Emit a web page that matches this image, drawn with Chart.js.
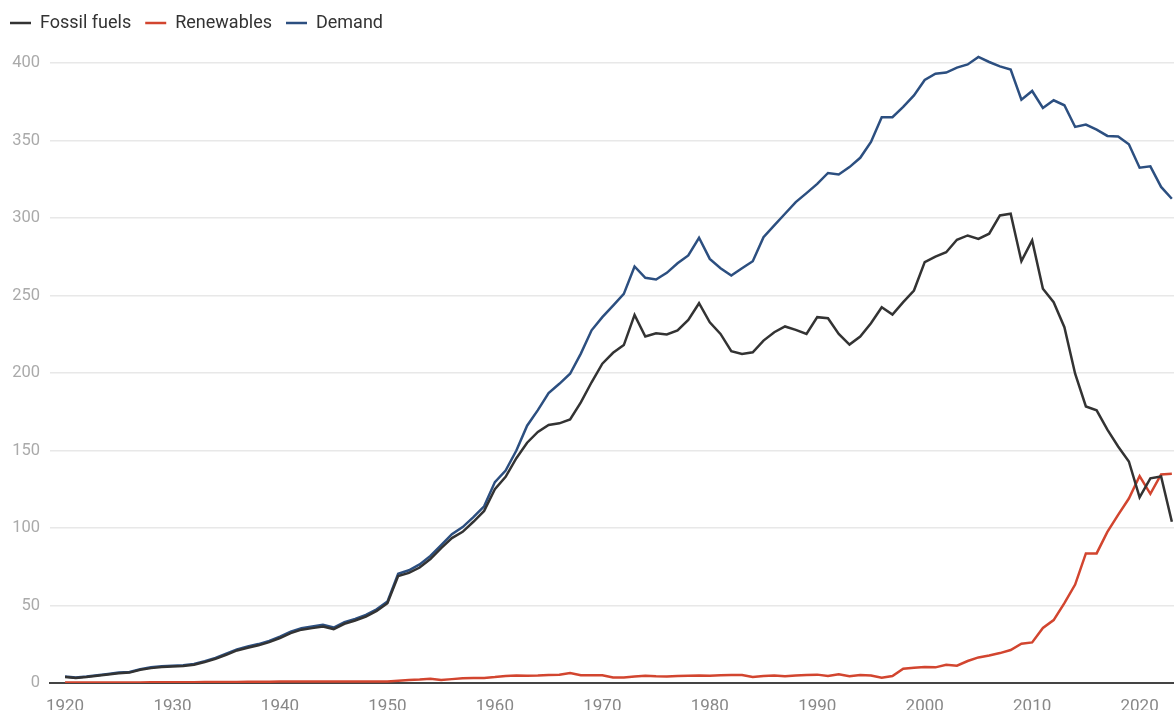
<!DOCTYPE html>
<html>
<head>
<meta charset="utf-8">
<script src="https://cdn.jsdelivr.net/npm/chart.js@4.4.1/dist/chart.umd.min.js"></script>
<style>
  html, body { margin: 0; padding: 0; background: #fff; overflow: hidden; }
  .chart-container { position: relative; width: 1174px; height: 710px; }
</style>
</head>
<body>
<div class="chart-container">
  <canvas id="chart"></canvas>
</div>
<script>
// years 1920 .. 2023
const years = Array.from({ length: 104 }, (_, i) => 1920 + i);
const decadeTicks = [1920, 1930, 1940, 1950, 1960, 1970, 1980, 1990, 2000, 2010, 2020];
const valueTicks = [0, 50, 100, 150, 200, 250, 300, 350, 400];

const fossilFuels = [
  3.9, 3.3, 3.9, 4.7, 5.5, 6.3, 6.7, 8.5, 9.6, 10.3,
  10.7, 11.0, 11.8, 13.5, 15.6, 18.2, 21.0, 22.7, 24.3, 26.4,
  29.0, 32.2, 34.4, 35.4, 36.5, 34.8, 38.2, 40.3, 42.9, 46.5,
  51.5, 69.0, 71.0, 74.5, 80.0, 87.0, 93.5, 97.5, 104.0, 111.0,
  125.0, 133.0, 145.0, 155.0, 162.0, 166.5, 167.5, 170.0, 181.0, 194.0,
  206.0, 213.0, 218.0, 237.5, 223.5, 225.6, 224.8, 227.4, 234.2, 245.0,
  232.7, 225.2, 214.0, 212.3, 213.3, 220.9, 226.3, 230.0, 227.8, 225.2,
  236.0, 235.3, 225.2, 218.3, 223.5, 232.1, 242.4, 237.7, 245.7, 253.2,
  271.5, 275.1, 277.9, 285.9, 288.7, 286.5, 289.8, 301.6, 302.7, 272.1,
  285.5, 254.3, 245.6, 229.5, 199.5, 178.4, 175.9, 163.4, 152.6, 142.9,
  119.8, 132.0, 133.2, 104.0
];

const renewables = [
  0.3, 0.3, 0.3, 0.3, 0.3, 0.4, 0.4, 0.4, 0.5, 0.5,
  0.5, 0.5, 0.5, 0.6, 0.6, 0.7, 0.7, 0.8, 0.8, 0.8,
  0.9, 0.9, 1.0, 1.0, 1.0, 1.0, 1.0, 1.0, 1.0, 1.0,
  1.0, 1.5, 2.0, 2.2, 2.8, 2.0, 2.5, 3.0, 3.2, 3.3,
  3.8, 4.5, 4.8, 4.6, 4.8, 5.2, 5.3, 6.5, 5.0, 5.0,
  5.0, 3.5, 3.6, 4.2, 4.6, 4.3, 4.2, 4.5, 4.6, 4.8,
  4.6, 5.0, 5.2, 5.2, 3.9, 4.5, 4.9, 4.3, 4.9, 5.2,
  5.4, 4.5, 5.6, 4.3, 5.2, 4.9, 3.4, 4.5, 9.2, 9.9,
  10.3, 10.1, 11.8, 11.2, 14.2, 16.5, 17.8, 19.3, 21.3, 25.3,
  26.2, 35.5, 40.6, 51.5, 63.5, 83.6, 83.6, 97.5, 108.5, 119.0,
  133.5, 122.0, 134.5, 135.0
];

const demand = [
  4.2, 3.6, 4.2, 5.0, 5.8, 6.7, 7.1, 8.9, 10.1, 10.8,
  11.2, 11.5, 12.3, 14.1, 16.2, 18.9, 21.7, 23.5, 25.1, 27.2,
  29.9, 33.1, 35.4, 36.4, 37.5, 35.8, 39.2, 41.3, 43.9, 47.5,
  52.5, 70.5, 72.7, 76.5, 82.0, 89.0, 96.0, 100.6, 107.0, 114.0,
  129.6, 137.0, 150.0, 166.0, 176.0, 187.0, 193.0, 199.5, 212.5, 227.5,
  236.0, 243.5, 251.0, 268.7, 261.4, 260.3, 264.6, 270.8, 275.8, 287.2,
  273.6, 267.6, 262.9, 267.6, 272.1, 287.6, 295.2, 302.7, 310.2, 316.0,
  322.0, 329.0, 328.0, 332.8, 338.8, 349.0, 365.0, 365.0, 371.6, 379.0,
  389.0, 393.0, 393.8, 397.0, 399.0, 403.9, 400.6, 397.8, 395.7, 376.3,
  381.9, 370.9, 375.9, 372.7, 358.7, 360.2, 357.0, 352.9, 352.6, 347.5,
  332.4, 333.3, 320.0, 312.4
];

const FONT = "Roboto, 'Noto Sans', sans-serif";

// extra room under the legend
const legendSpacer = {
  id: "legendSpacer",
  beforeInit(chart) {
    const fit = chart.legend.fit;
    chart.legend.fit = function () {
      fit.call(this);
      this.height += 11;
    };
  },
};

const ctx = document.getElementById("chart").getContext("2d");

new Chart(ctx, {
  type: "line",
  data: {
    labels: years,
    datasets: [
      { label: "Fossil fuels", data: fossilFuels, borderColor: "#333333", backgroundColor: "#333333", borderWidth: 2.5 },
      { label: "Renewables", data: renewables, borderColor: "#d2452f", backgroundColor: "#d2452f", borderWidth: 2.5 },
      { label: "Demand", data: demand, borderColor: "#2c4f80", backgroundColor: "#2c4f80", borderWidth: 2.5 },
    ],
  },
  options: {
    responsive: true,
    maintainAspectRatio: false,
    animation: false,
    layout: { padding: { left: -4, top: 0, right: 0, bottom: 0 } },
    elements: {
      line: { tension: 0, fill: false },
      point: { radius: 0, hoverRadius: 0 },
    },
    plugins: {
      legend: {
        position: "top",
        align: "start",
        labels: {
          usePointStyle: true,
          pointStyle: "line",
          pointStyleWidth: 21,
          padding: 14,
          color: "#333",
          font: { family: FONT, size: 18 },
        },
      },
      tooltip: { enabled: false },
    },
    scales: {
      x: {
        type: "linear",
        min: 1918.6,
        max: 2023.2,
        afterBuildTicks: (axis) => {
          axis.ticks = decadeTicks.map((v) => ({ value: v }));
        },
        afterFit: (axis) => {
          axis.height = 27;
        },
        grid: { display: false, drawTicks: false },
        border: { display: true, color: "#444", width: 2 },
        ticks: {
          padding: 14,
          color: "#888",
          maxRotation: 0,
          font: { family: FONT, size: 17 },
          callback: (v) => String(v),
        },
      },
      y: {
        min: 0,
        max: 406.4,
        afterBuildTicks: (axis) => {
          axis.ticks = valueTicks.map((v) => ({ value: v }));
        },
        afterFit: (axis) => {
          axis.width = 54;
        },
        grid: { color: "#e8e8e8", lineWidth: 1.5, drawTicks: false },
        border: { display: false },
        ticks: {
          padding: 10,
          color: "#aaa",
          font: { family: FONT, size: 16.5 },
        },
      },
    },
  },
  plugins: [legendSpacer],
});
</script>
</body>
</html>
